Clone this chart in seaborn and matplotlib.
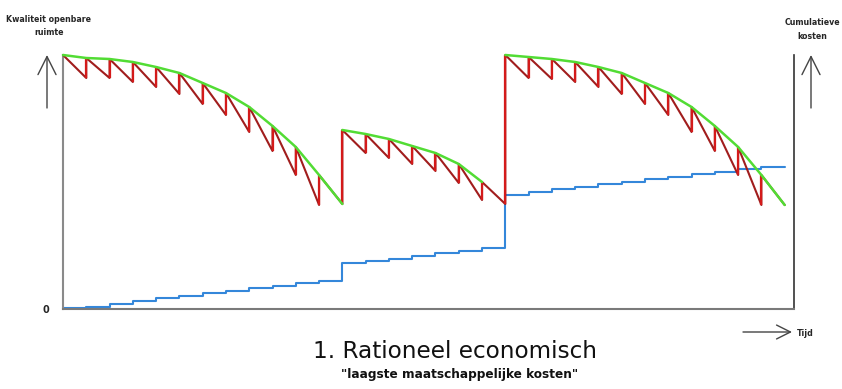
import numpy as np
import pandas as pd
import matplotlib
matplotlib.use("Agg")
import matplotlib.pyplot as plt
import seaborn as sns

# ---------------- data ----------------
# quality of public space: tooth tops (after each maintenance) and the
# low point reached just before the next maintenance / renewal
seg1_start = 0
seg1_tops = [254, 251, 250, 247, 242, 236, 226, 216, 202, 183, 162, 134]
seg1_bottoms = [231, 231, 227, 222, 215, 205, 194, 177, 158, 134, 104, 105]

seg2_start = 12
seg2_tops = [179, 175, 170, 163, 156, 145, 127]
seg2_bottoms = [156, 151, 145, 138, 126, 109, 105]

seg3_start = 19
seg3_tops = [254, 252, 250, 247, 242, 236, 226, 216, 202, 183, 162, 134]
seg3_bottoms = [231, 230, 227, 222, 215, 205, 194, 177, 158, 134, 104, 104]

# cumulative costs (step after each intervention)
cost_times = list(range(0, 32))
cost_values = [1, 2.3, 5, 8, 10.7, 13, 15.7, 18, 20.7, 23, 25.7, 28.3,
               45.7, 48, 50.3, 53, 55.7, 58.3, 61,
               114, 116.7, 119.7, 122.3, 125, 127.3, 130, 132.3, 135,
               137.3, 139.7, 142.3, 142.3]

title = "1. Rationeel economisch"
subtitle = "\"laagste maatschappelijke kosten\""
ylabel_left = "Kwaliteit openbare\nruimte"
ylabel_right = "Cumulatieve\nkosten"
xlabel = "Tijd"

# ---------------- build paths ----------------
def saw(t0, tops, bottoms):
    xs, ys = [t0], [tops[0]]
    for i in range(len(bottoms)):
        xs.append(t0 + i + 1); ys.append(bottoms[i])
        if i + 1 < len(tops):
            xs.append(t0 + i + 1); ys.append(tops[i + 1])
    return xs, ys

rx, ry = [], []
for t0, tp, bt in [(seg1_start, seg1_tops, seg1_bottoms),
                   (seg2_start, seg2_tops, seg2_bottoms),
                   (seg3_start, seg3_tops, seg3_bottoms)]:
    xs, ys = saw(t0, tp, bt)
    rx += xs; ry += ys
red_df = pd.DataFrame({"t": rx, "q": ry, "order": range(len(rx))})

def envelope(t0, tops, end=None):
    xs = [t0 + i for i in range(len(tops))]
    ys = list(tops)
    if end is not None:
        xs.append(t0 + len(tops)); ys.append(end)
    return pd.DataFrame({"t": xs, "q": ys})

g1 = envelope(seg1_start, seg1_tops, seg1_bottoms[-1])
g2 = envelope(seg2_start, seg2_tops)
g3 = envelope(seg3_start, seg3_tops, seg3_bottoms[-1])

cost_df = pd.DataFrame({"t": cost_times, "c": cost_values})

# ---------------- figure ----------------
sns.set_theme(style="white")
plt.rcParams["font.family"] = ["DejaVu Sans"]

W, H = 842, 389
fig = plt.figure(figsize=(W / 100, H / 100), dpi=100)
fig.patch.set_facecolor("white")
ax = fig.add_axes([63 / W, (H - 309) / H, (794 - 63) / W, (309 - 55) / H])
ax.set_facecolor("white")

RED_D = "#a11d1d"
RED_V = "#d41a1a"
GREEN = "#52dc34"
BLUE = "#3487da"

sns.lineplot(data=cost_df, x="t", y="c", ax=ax, color=BLUE, lw=1.5,
             drawstyle="steps-post", estimator=None, sort=False,
             clip_on=False, zorder=2)
sns.lineplot(data=red_df, x="t", y="q", ax=ax, color=RED_D, lw=1.5,
             estimator=None, sort=False, clip_on=False, zorder=3)
# vertical parts (maintenance / renewal jumps) in brighter red
vx, vy0, vy1 = [], [], []
for i in range(1, len(rx)):
    if rx[i] == rx[i - 1]:
        vx.append(rx[i]); vy0.append(ry[i - 1]); vy1.append(ry[i])
ax.vlines(vx, vy0, vy1, colors=RED_V, lw=1.6, zorder=3.5, clip_on=False)

for g in (g1, g2, g3):
    sns.lineplot(data=g, x="t", y="q", ax=ax, color=GREEN, lw=1.8,
                 estimator=None, sort=False, clip_on=False, zorder=4)

ax.set_xlim(0, 31.4)
ax.set_ylim(0, 254)
ax.set_xlabel("")
ax.set_ylabel("")
ax.set_xticks([])
ax.set_yticks([0])
ax.set_yticklabels(["0"], fontsize=7, fontweight="bold")
ax.tick_params(axis="y", length=0, pad=10)

for s in ("top",):
    ax.spines[s].set_visible(False)
ax.spines["left"].set_color("#8a8a8a")
ax.spines["left"].set_linewidth(1.5)
ax.spines["bottom"].set_color("#7a7a7a")
ax.spines["bottom"].set_linewidth(1.5)
ax.spines["right"].set_color("#333333")
ax.spines["right"].set_linewidth(1.2)

# ---------------- arrows & labels ----------------
def arrow(x0, y0, x1, y1, hl, hw):
    fig.add_artist(matplotlib.patches.FancyArrowPatch(
        (x0 / W, 1 - y0 / H), (x1 / W, 1 - y1 / H),
        transform=fig.transFigure,
        arrowstyle=f"->,head_length={hl},head_width={hw}",
        mutation_scale=10, lw=1.0, color="#444444",
        shrinkA=0, shrinkB=0))

arrow(47, 108, 47, 55, 1.3, 0.65)
arrow(811, 108, 811, 55, 1.3, 0.65)
arrow(743, 332, 792, 332, 1.0, 0.5)

fig.text(49 / W, 1 - 26 / H, ylabel_left, ha="center", va="center",
         fontsize=5.7, fontweight="bold", linespacing=1.6)
fig.text(812 / W, 1 - 29.5 / H, ylabel_right, ha="center", va="center",
         fontsize=5.7, fontweight="bold", linespacing=1.6)
fig.text(797 / W, 1 - 333.5 / H, xlabel, ha="left", va="center",
         fontsize=5.7, fontweight="bold")

fig.text(455 / W, 1 - 358 / H, title, ha="center", va="baseline",
         fontsize=16.7, color="#111111")
fig.text(460 / W, 1 - 378 / H, subtitle, ha="center", va="baseline",
         fontsize=8.7, fontweight="bold", color="#111111")

fig.savefig("out.png", dpi=100, facecolor="white")
